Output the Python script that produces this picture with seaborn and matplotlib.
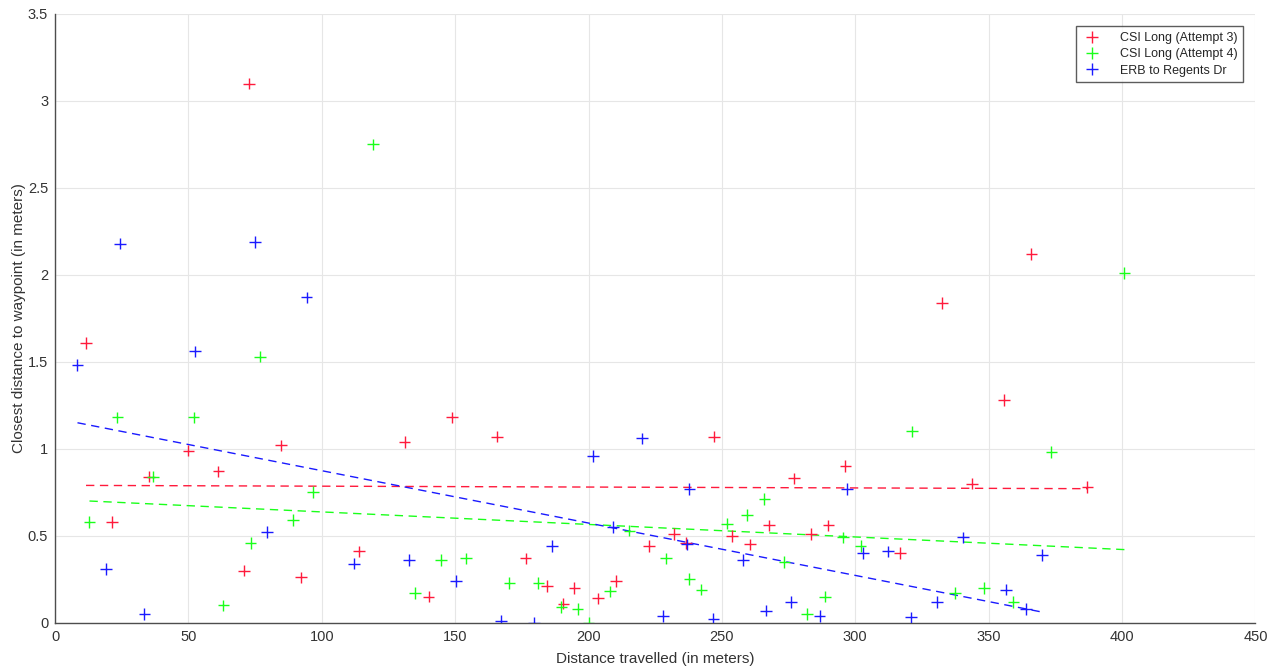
import matplotlib.pyplot as plt
import numpy as np
import pandas as pd
import seaborn as sns

# CSI Long (Attempt 3)
a3_dist = [11.6, 21.4, 35.3, 50, 61.2, 70.9, 72.7, 84.7, 92.2, 113.9, 131, 140, 148.9, 165.7,
           176.4, 184.5, 190.6, 194.7, 203.6, 210.3, 222.7, 232, 236.6, 247, 253.8, 260.6,
           267.7, 277, 283.5, 289.9, 296.3, 316.8, 332.6, 343.8, 355.7, 366, 387]
a3_err = [1.61, 0.58, 0.84, 0.99, 0.87, 0.30, 3.10, 1.02, 0.26, 0.41, 1.04, 0.15, 1.18, 1.07,
          0.37, 0.21, 0.11, 0.20, 0.14, 0.24, 0.44, 0.51, 0.46, 1.07, 0.50, 0.45,
          0.56, 0.83, 0.51, 0.56, 0.90, 0.40, 1.84, 0.80, 1.28, 2.12, 0.78]

# CSI Long (Attempt 4)
a4_dist = [12.9, 23.4, 36.6, 51.9, 63.1, 73.3, 76.8, 89.1, 96.6, 119.2, 135, 144.7, 154,
           170.3, 181.2, 189.8, 195.9, 200, 208, 215.3, 229, 237.8, 242.3, 252, 259.5,
           265.9, 273.4, 281.9, 288.7, 295.5, 302, 321.3, 337.5, 348.3, 359.3, 373.5, 400.9]
a4_err = [0.58, 1.18, 0.84, 1.18, 0.10, 0.46, 1.53, 0.59, 0.75, 2.75, 0.17, 0.36, 0.37,
          0.23, 0.23, 0.09, 0.08, 0.0, 0.18, 0.53, 0.37, 0.25, 0.19, 0.57, 0.62,
          0.71, 0.35, 0.05, 0.15, 0.49, 0.44, 1.10, 0.17, 0.20, 0.12, 0.98, 2.01]

# ERB to Regents Dr
erb_dist = [8.4, 19, 24.4, 33.5, 52.5, 75, 79.4, 94.3, 112.1, 132.6, 150.4, 167.2, 179.6,
            186.4, 201.7, 209.2, 220.1, 228, 237, 237.8, 246.8, 258, 266.6, 276, 286.6,
            297, 303, 312.3, 321, 330.7, 340.5, 356.6, 364, 370]
erb_err = [1.48, 0.31, 2.18, 0.05, 1.56, 2.19, 0.52, 1.87, 0.34, 0.36, 0.24, 0.01, 0.0,
           0.44, 0.96, 0.55, 1.06, 0.04, 0.45, 0.77, 0.02, 0.36, 0.07, 0.12, 0.04,
           0.77, 0.40, 0.41, 0.03, 0.12, 0.49, 0.19, 0.08, 0.39]

series_names = ["CSI Long (Attempt 3)", "CSI Long (Attempt 4)", "ERB to Regents Dr"]
series_colors = ["#ff1a3c", "#1aff1a", "#1a1aff"]

# linear trend: intercept, slope
trend_intercept = [0.790, 0.709, 1.175]
trend_slope = [-0.00005, -0.00072, -0.00301]

df = pd.concat([
    pd.DataFrame({"dist": a3_dist, "err": a3_err, "run": series_names[0]}),
    pd.DataFrame({"dist": a4_dist, "err": a4_err, "run": series_names[1]}),
    pd.DataFrame({"dist": erb_dist, "err": erb_err, "run": series_names[2]}),
])

sns.set_style("white")
plt.rcParams["font.family"] = ["Liberation Sans", "DejaVu Sans"]

fig = plt.figure(figsize=(12.81, 6.66), dpi=100)
ax = fig.add_axes([0.043, 0.065, 0.937, 0.914])

palette = dict(zip(series_names, series_colors))
sns.scatterplot(data=df, x="dist", y="err", hue="run", palette=palette, marker="+",
                s=70, linewidth=1.0, ax=ax, zorder=3)

for name, col, b0, b1 in zip(series_names, series_colors, trend_intercept, trend_slope):
    d = df[df["run"] == name]["dist"]
    xs = np.array([d.min(), d.max()])
    ax.plot(xs, b0 + b1 * xs, linestyle="--", color=col, linewidth=1.0, dashes=(6, 4), zorder=2)

ax.set_xlim(0, 450)
ax.set_ylim(0, 3.5)
ax.set_xticks(range(0, 451, 50))
ax.set_yticks([0, 0.5, 1, 1.5, 2, 2.5, 3, 3.5])
ax.set_yticklabels(["0", "0.5", "1", "1.5", "2", "2.5", "3", "3.5"])
ax.grid(True, color="#e6e6e6", linewidth=0.8)
ax.set_axisbelow(True)
for side in ["top", "right"]:
    ax.spines[side].set_visible(False)
for side in ["left", "bottom"]:
    ax.spines[side].set_color("#4d4d4d")
    ax.spines[side].set_linewidth(1.0)
ax.tick_params(direction="in", length=6, width=1, colors="#4d4d4d", labelsize=10.5,
               labelcolor="#333333", pad=5)

ax.set_xlabel("Distance travelled (in meters)", fontsize=11, color="#333333", labelpad=6)
ax.set_ylabel("Closest distance to waypoint (in meters)", fontsize=11, color="#333333", labelpad=1)

leg = ax.legend(loc="upper right", bbox_to_anchor=(0.995, 0.99), fontsize=9, frameon=True,
                fancybox=False, edgecolor="#333333", handletextpad=1.3, borderpad=0.45,
                labelspacing=0.35, handlelength=1.8)
leg.get_frame().set_linewidth(1.0)

plt.savefig("out.png", dpi=100)
